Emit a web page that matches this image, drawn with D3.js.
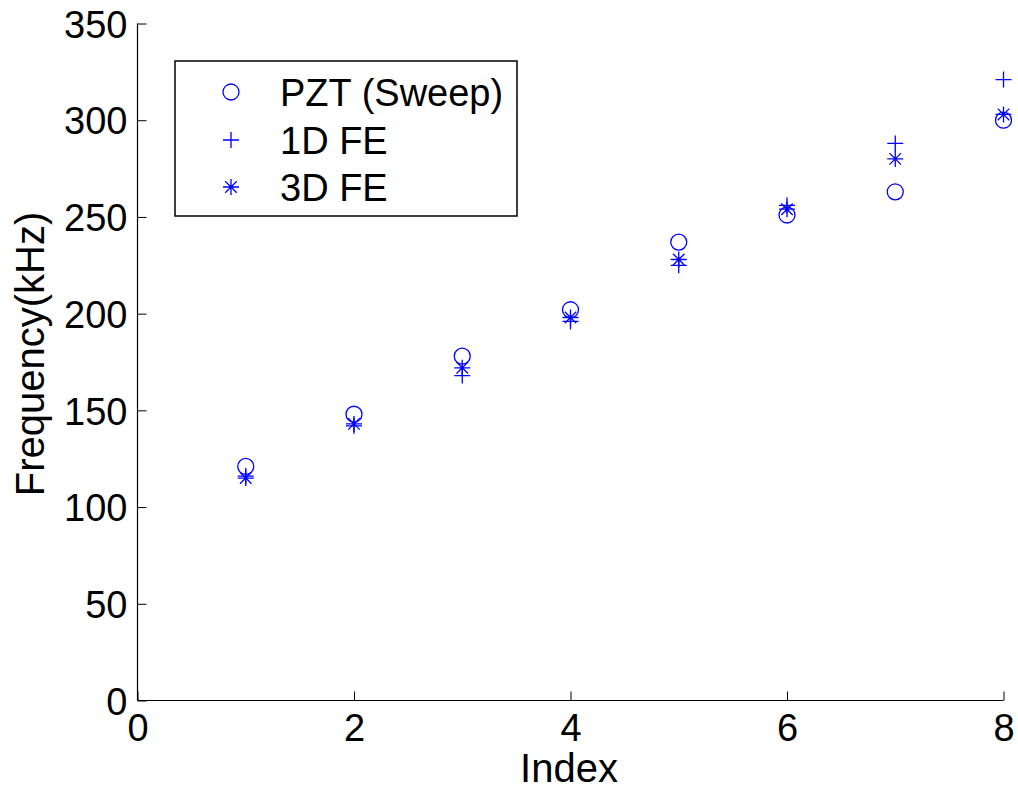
<!DOCTYPE html>
<html><head><meta charset="utf-8">
<script src="https://cdn.jsdelivr.net/npm/d3@7"></script>
<style>
html,body{margin:0;padding:0;background:#fff;}
text{font-family:"Liberation Sans",Arial,sans-serif;}
</style></head>
<body>
<svg id="chart" width="1018" height="792"></svg>
<script>
const indices = [1,2,3,4,5,6,7,8];
const pztSweep = [121,148,178,202,237,251,263,300];
const fe1D     = [116,142,168,196,225,256,288,321];
const fe3D     = [115,143,172,198,228,254,280,303];
const xTicks = [0,2,4,6,8];
const yTicks = [0,50,100,150,200,250,300,350];
const legendLabels = ["PZT (Sweep)","1D FE","3D FE"];

const svg = d3.select("#chart");
const margin = {left:137.5, right:1003.5, top:23.5, bottom:700.5};
const x = d3.scaleLinear().domain([0,8]).range([margin.left, margin.right]);
const y = d3.scaleLinear().domain([0,350]).range([margin.bottom, margin.top]);
const FS = 38;
const FL = 40;
const blue = "#0000ff";

// axes
const xAxis = d3.axisBottom(x).tickValues(xTicks).tickSize(-9).tickPadding(13).tickFormat(d3.format("d"));
const gx = svg.append("g").attr("transform",`translate(0,${margin.bottom})`).call(xAxis);
const yAxis = d3.axisLeft(y).tickValues(yTicks).tickSize(-9).tickPadding(10).tickFormat(d3.format("d"));
const gy = svg.append("g").attr("transform",`translate(${margin.left},0)`).call(yAxis);
[gx,gy].forEach(g=>{
  g.select(".domain").attr("stroke","#000").attr("stroke-width",1.2);
  g.selectAll(".tick line").attr("stroke","#000").attr("stroke-width",1);
  g.selectAll(".tick text").attr("fill","#000").style("font-size",FS+"px").style("font-family","'Liberation Sans',Arial,sans-serif");
});
gx.selectAll(".domain").attr("d",`M${margin.left},0H${margin.right}`);
gy.selectAll(".domain").attr("d",`M0,${margin.top}V${margin.bottom}`);
gy.selectAll(".tick text").attr("dy","0.36em");
gx.selectAll(".tick text").attr("dy","0.72em");

// labels
svg.append("text").attr("x",569).attr("y",782)
  .attr("text-anchor","middle").style("font-size",FL+"px").text("Index");
svg.append("text").attr("transform",`translate(44,354) rotate(-90)`)
  .attr("text-anchor","middle").style("font-size",FL+"px").text("Frequency(kHz)");

// marker shapes
const R = 8;
function drawCircle(g,cx,cy){ g.append("circle").attr("cx",cx).attr("cy",cy).attr("r",R).attr("fill","none").attr("stroke",blue).attr("stroke-width",1.3); }
function drawPlus(g,cx,cy){ g.append("path").attr("d",`M${cx-R},${cy}H${cx+R}M${cx},${cy-R}V${cy+R}`).attr("fill","none").attr("stroke",blue).attr("stroke-width",1.3); }
function drawStar(g,cx,cy){ const d=R*0.72; g.append("path").attr("d",`M${cx-R},${cy}H${cx+R}M${cx},${cy-R}V${cy+R}M${cx-d},${cy-d}L${cx+d},${cy+d}M${cx-d},${cy+d}L${cx+d},${cy-d}`).attr("fill","none").attr("stroke",blue).attr("stroke-width",1.3); }

const plot = svg.append("g");
indices.forEach((xi,i)=>{ drawCircle(plot,x(xi),y(pztSweep[i])); });
indices.forEach((xi,i)=>{ drawPlus(plot,x(xi),y(fe1D[i])); });
indices.forEach((xi,i)=>{ drawStar(plot,x(xi),y(fe3D[i])); });

// legend
const lg = svg.append("g");
lg.append("rect").attr("x",175).attr("y",61).attr("width",342).attr("height",155).attr("fill","#fff").attr("stroke","#000").attr("stroke-width",1.5);
const rowsY = [92,140,187];
const drawers = [drawCircle,drawPlus,drawStar];
legendLabels.forEach((lab,i)=>{
  drawers[i](lg,231,rowsY[i]);
  lg.append("text").attr("x",280).attr("y",rowsY[i]).attr("dy","0.36em").style("font-size",FS+"px").text(lab);
});
</script>
</body></html>
